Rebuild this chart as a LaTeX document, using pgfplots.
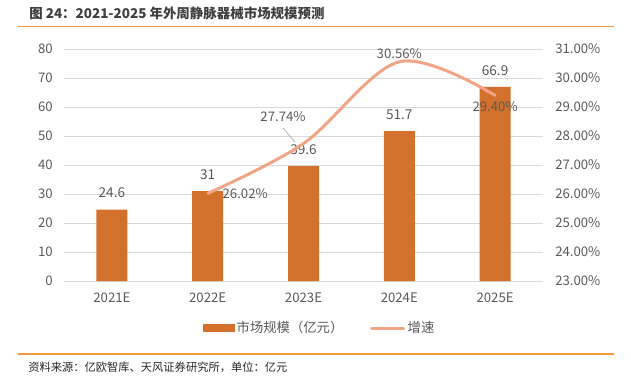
\documentclass[border=0pt]{standalone}
\usepackage{fontspec}
\setmainfont{Noto Sans CJK SC}
\usepackage{pgfplots}
\pgfplotsset{compat=1.18}
\definecolor{barc}{HTML}{D3702C}
\definecolor{linec}{HTML}{F2A486}
\definecolor{txt}{HTML}{595959}
\definecolor{titlec}{HTML}{3F3F3F}
\definecolor{gridc}{HTML}{D9D9D9}
\definecolor{rulec}{HTML}{F39A3E}
\newcommand{\fs}{\fontsize{9.9pt}{11pt}\selectfont}
\begin{document}
\begin{tikzpicture}[x=0.75pt,y=-0.75pt]
\path[use as bounding box] (0,0) rectangle (631,387);
\draw[rulec, line width=1pt] (18,26.5) -- (614,26.5);
\draw[rulec, line width=1pt] (18,354) -- (614,354);
\node[anchor=west, text=titlec, font=\bfseries\fontsize{10.1pt}{11pt}\selectfont, inner sep=0] at (29,13.5) {图 24：2021-2025 年外周静脉器械市场规模预测};
\node[anchor=west, text=black!85, font=\fontsize{8.45pt}{10pt}\selectfont, inner sep=0] at (28,367.5) {资料来源：亿欧智库、天风证券研究所，单位：亿元};
\coordinate (O) at (64,281);
\begin{axis}[at={(O)}, anchor=south west, scale only axis,
  width=359.25pt, height=174pt,
  xmin=-0.5, xmax=4.5, ymin=0, ymax=80,
  ytick={0,10,...,80}, xtick={0,1,2,3,4},
  xticklabels={2021E,2022E,2023E,2024E,2025E},
  axis line style={draw=none}, major tick length=0pt,
  ymajorgrids, grid style={gridc, line width=0.75pt},
  /pgf/number format/assume math mode=true,
  ticklabel style={font=\fs, text=txt, inner sep=0pt},
  yticklabel style={anchor=east, xshift=-8.25pt},
  xticklabel style={anchor=north, yshift=-8.5pt},
  clip=false]
\addplot[ybar, bar width=23.25pt, fill=barc, draw=none,
  nodes near coords,
  every node near coord/.append style={anchor=center, yshift=12.4pt, inner sep=0pt, font=\fontsize{10.2pt}{12pt}\selectfont, text=txt}]
  coordinates {(0,24.6) (1,31) (2,39.6) (3,51.7) (4,66.9)};
\end{axis}
\begin{axis}[at={(O)}, anchor=south west, scale only axis,
  width=359.25pt, height=174pt,
  xmin=-0.5, xmax=4.5, ymin=23, ymax=31,
  ytick={23,24,...,31},
  axis x line=none, axis y line*=right,
  axis line style={draw=none}, major tick length=0pt,
  /pgf/number format/assume math mode=true,
  yticklabel={\pgfmathprintnumber[fixed,fixed zerofill,precision=2]{\tick}\%},
  ticklabel style={font=\fs, text=txt, inner sep=0pt},
  yticklabel style={anchor=west, xshift=9pt},
  clip=false,
  legend style={at={(0.534,-0.203)}, anchor=center, draw=none, fill=none,
    font=\fontsize{10pt}{12pt}\selectfont, text=txt, inner sep=0pt,
    /tikz/every even column/.append style={column sep=18pt}},
  legend columns=2]
\addlegendimage{legend image code/.code={\fill[barc] (0pt,-2.6pt) rectangle (23.25pt,2.6pt);}}
\addlegendentry{市场规模（亿元）}
\addplot[linec, line width=2.25pt, smooth, tension=0.55, line cap=round,
  legend image code/.code={\draw[linec, line width=2.25pt, line cap=round] (0pt,0pt) -- (24pt,0pt);}]
  coordinates {(1,26.02) (2,27.74) (3,30.56) (4,29.40)};
\addlegendentry{增速}
\node[anchor=west, font=\fs, text=txt, inner sep=0pt] at (axis cs:1,26.02) [xshift=11pt] {26.02\%};
\node[font=\fs, text=txt, inner sep=0pt] at (axis cs:1.786,28.655) {27.74\%};
\draw[gray!70, line width=0.5pt] (axis cs:1.786,28.276) -- (axis cs:1.911,27.793);
\node[font=\fs, text=txt, inner sep=0pt] at (axis cs:3,30.56) [yshift=6.4pt] {30.56\%};
\node[font=\fs, text=txt, inner sep=0pt] at (axis cs:4,29.40) [yshift=-8.7pt] {29.40\%};
\end{axis}
\end{tikzpicture}
\end{document}
